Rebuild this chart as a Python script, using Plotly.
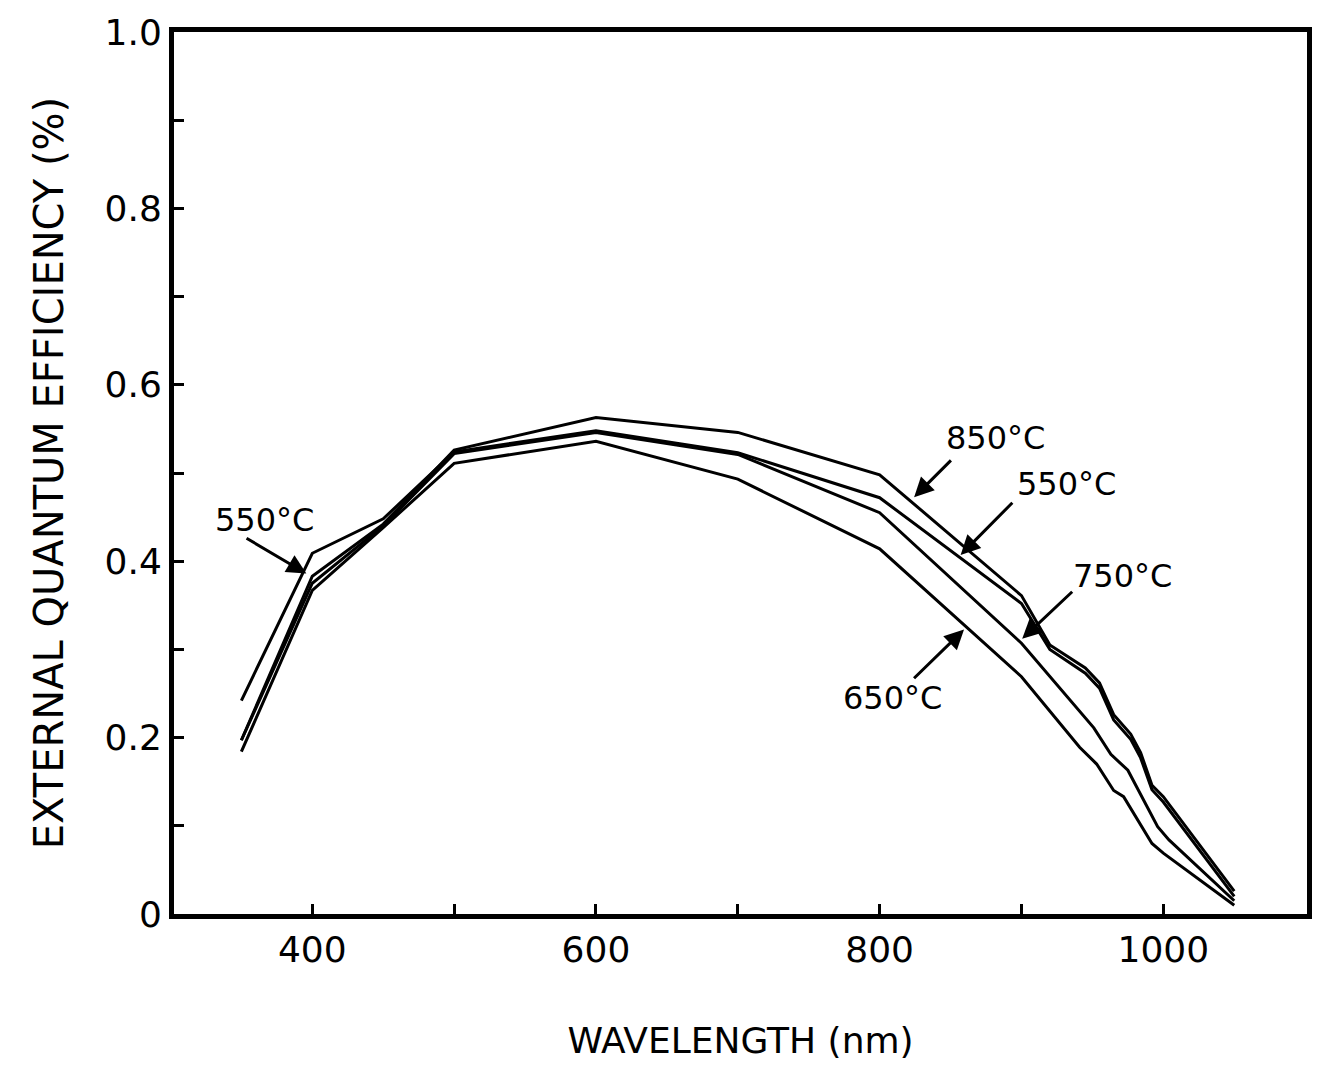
import plotly.graph_objects as go

# ---------------- data ----------------
wl_850 = [350, 400, 450, 500, 600, 700, 800, 900, 920, 945, 955, 965, 977, 984, 992, 1000, 1050]
qe_850 = [0.197, 0.383, 0.442, 0.526, 0.563, 0.546, 0.498, 0.361, 0.305, 0.279, 0.262, 0.226, 0.204, 0.183, 0.146, 0.133, 0.026]

wl_550 = [350, 400, 450, 500, 600, 700, 800, 900, 920, 945, 955, 965, 977, 984, 992, 1000, 1050]
qe_550 = [0.242, 0.409, 0.448, 0.524, 0.548, 0.523, 0.472, 0.352, 0.300, 0.273, 0.256, 0.220, 0.198, 0.177, 0.141, 0.127, 0.020]

wl_750 = [350, 400, 450, 500, 600, 700, 800, 900, 951, 963, 975, 996, 1004, 1050]
qe_750 = [0.197, 0.375, 0.440, 0.522, 0.546, 0.521, 0.455, 0.307, 0.211, 0.181, 0.163, 0.099, 0.084, 0.015]

wl_650 = [350, 400, 450, 500, 600, 700, 800, 900, 941, 953, 965, 972, 992, 1000, 1050]
qe_650 = [0.184, 0.367, 0.438, 0.511, 0.536, 0.493, 0.414, 0.269, 0.189, 0.170, 0.140, 0.133, 0.080, 0.069, 0.010]

x_tickvals = [400, 500, 600, 700, 800, 900, 1000]
x_ticktext = ["400", "", "600", "", "800", "", "1000"]
y_tickvals = [0, 0.1, 0.2, 0.3, 0.4, 0.5, 0.6, 0.7, 0.8, 0.9, 1.0]
y_ticktext = ["0", "", "0.2", "", "0.4", "", "0.6", "", "0.8", "", "1.0"]

# labels: (text, text_x, text_y, tail_x, tail_y, tip_x, tip_y)
labels = [
    ("550°C", 366, 0.447, 352.6, 0.427, 395.8, 0.386),
    ("850°C", 881.7, 0.540, 851.3, 0.516, 824.3, 0.4725),
    ("550°C", 931.4, 0.487, 894.6, 0.468, 857.1, 0.407),
    ("750°C", 971.4, 0.3835, 936.8, 0.367, 900.5, 0.312),
    ("650°C", 809.2, 0.245, 823.2, 0.2656, 859.5, 0.3225),
]

FONT = "DejaVu Sans"

fig = go.Figure()
for name, xs, ys in [("850°C", wl_850, qe_850), ("550°C", wl_550, qe_550),
                     ("750°C", wl_750, qe_750), ("650°C", wl_650, qe_650)]:
    fig.add_trace(go.Scatter(x=xs, y=ys, mode="lines", name=name,
                             line=dict(color="black", width=3)))

for txt, tx, ty, ax, ay, hx, hy in labels:
    fig.add_annotation(x=tx, y=ty, xref="x", yref="y", text=txt, showarrow=False,
                       font=dict(family=FONT, size=32, color="black"))
    fig.add_annotation(x=hx, y=hy, ax=ax, ay=ay, xref="x", yref="y",
                       axref="x", ayref="y", text="", showarrow=True,
                       arrowhead=2, arrowsize=1.3, arrowwidth=3, arrowcolor="black",
                       standoff=0, startstandoff=0)

fig.update_layout(
    width=1324, height=1067,
    margin=dict(l=174, r=13, t=30, b=151),
    paper_bgcolor="white", plot_bgcolor="white",
    showlegend=False,
    font=dict(family=FONT, color="black"),
)
fig.update_xaxes(
    range=[302.5, 1101.3], showgrid=False, zeroline=False,
    showline=True, linewidth=5, linecolor="black", mirror=True,
    tickvals=x_tickvals, ticktext=x_ticktext,
    ticks="inside", ticklen=10, tickwidth=3, tickcolor="black",
    tickfont=dict(family=FONT, size=36, color="black"),
    title=dict(text="WAVELENGTH (nm)", font=dict(family=FONT, size=36, color="black"),
               standoff=60),
)
fig.update_yaxes(
    range=[0, 1.0], showgrid=False, zeroline=False,
    showline=True, linewidth=5, linecolor="black", mirror=True,
    tickvals=y_tickvals, ticktext=y_ticktext,
    ticks="inside", ticklen=10, tickwidth=3, tickcolor="black",
    tickfont=dict(family=FONT, size=36, color="black"),
    title=dict(text="EXTERNAL QUANTUM EFFICIENCY (%)",
               font=dict(family=FONT, size=40, color="black"), standoff=30),
)

fig.write_html("out.html")
